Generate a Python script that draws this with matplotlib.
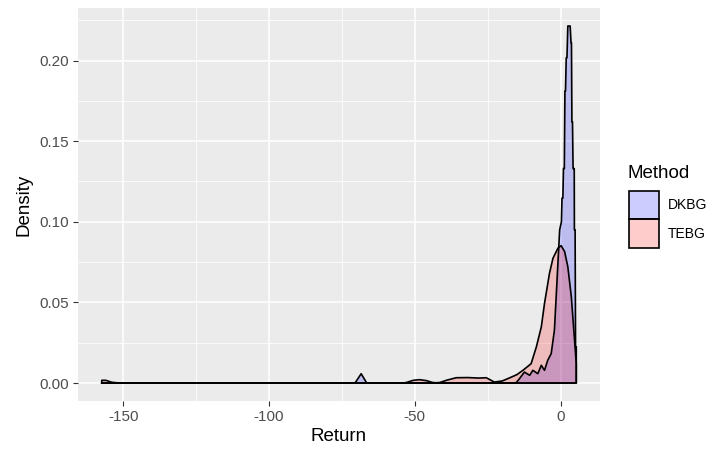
import matplotlib
matplotlib.use("Agg")
import matplotlib.pyplot as plt
from matplotlib.patches import Patch
from matplotlib.colors import to_rgba
from matplotlib.ticker import MultipleLocator

plt.rcParams["font.family"] = ["Liberation Sans", "DejaVu Sans"]

# density curves (Return, Density)
dkbg_x = [-157.4, -71.0, -70.4, -68.4, -66.6, -66.0, -16.0, -15.2, -14.1, -12.4,
          -10.6, -9.5, -7.8, -6.6, -5.5, -4.4, -3.2, -2.1, -1.5, -0.9,
          -0.3, 0.3, 0.5, 0.8, 1.0, 1.3, 1.5, 1.7, 1.95, 2.2,
          2.5, 3.3, 3.6, 3.75, 3.9, 4.1, 4.3, 4.7, 4.75, 5.0,
          5.15, 5.4]
dkbg_y = [0.0, 0.0, 0.0003, 0.0058, 0.0003, 0.0, 0.0, 0.0003, 0.0027, 0.0068,
          0.0048, 0.0079, 0.0058, 0.011, 0.0079, 0.0141, 0.0183, 0.0328, 0.0535, 0.0743,
          0.095, 0.100, 0.1147, 0.1147, 0.133, 0.133, 0.181, 0.181, 0.2017, 0.2017,
          0.2214, 0.2214, 0.211, 0.211, 0.162, 0.162, 0.133, 0.133, 0.095, 0.095,
          0.0224, 0.0224]

tebg_x = [-157.4, -156.0, -154.0, -152.5, -150.0, -54.0, -53.0, -50.5, -48.4, -46.0,
          -44.0, -43.0, -41.5, -39.0, -35.8, -32.0, -28.0, -25.5, -22.7, -20.0,
          -17.5, -15.0, -12.9, -10.1, -8.3, -6.6, -5.5, -3.8, -2.6, -0.9,
          0.2, 1.4, 2.5, 3.7, 4.8, 5.4]
tebg_y = [0.0017, 0.0017, 0.0005, 0.0002, 0.0, 0.0, 0.0003, 0.0017, 0.0021, 0.0015,
          0.0004, 0.0002, 0.0003, 0.0018, 0.0033, 0.0034, 0.0031, 0.0033, 0.0006, 0.0013,
          0.0032, 0.0052, 0.0079, 0.012, 0.0224, 0.0348, 0.0494, 0.068, 0.0774, 0.0836,
          0.0852, 0.0815, 0.0721, 0.0535, 0.0266, 0.012]

methods = ["DKBG", "TEBG"]
fills = ["blue", "red"]
xticks = [-150, -100, -50, 0]
yticks = [0.00, 0.05, 0.10, 0.15, 0.20]

fig = plt.figure(figsize=(7.16, 4.53), dpi=100)
ax = fig.add_axes([0.109, 0.115, 0.729, 0.867])
ax.set_facecolor("#EBEBEB")

for xs, ys, col in [(dkbg_x, dkbg_y, fills[0]), (tebg_x, tebg_y, fills[1])]:
    ax.fill_between(xs, 0, ys, facecolor=to_rgba(col, 0.2), edgecolor="none", zorder=3)
    # closed outline like old ggplot geom_density
    px = [xs[0]] + list(xs) + [xs[-1], xs[0]]
    py = [0] + list(ys) + [0, 0]
    ax.plot(px, py, color="black", lw=1.2, zorder=4)

# ggplot-style limits with 5% expansion
allx = dkbg_x + tebg_x
ally = dkbg_y + tebg_y
xr = max(allx) - min(allx)
yr = max(ally) - min(ally)
ax.set_xlim(min(allx) - 0.05 * xr, max(allx) + 0.05 * xr)
ax.set_ylim(min(ally) - 0.05 * yr, max(ally) + 0.05 * yr)

ax.set_xticks(xticks)
ax.set_xticklabels([str(t) for t in xticks])
ax.set_yticks(yticks)
ax.set_yticklabels(["%.2f" % t for t in yticks])
ax.xaxis.set_minor_locator(MultipleLocator(25))
ax.yaxis.set_minor_locator(MultipleLocator(0.025))
ax.grid(which="major", color="white", lw=1.1, zorder=0)
ax.grid(which="minor", color="white", lw=0.55, zorder=0)
ax.set_axisbelow(True)
for s in ax.spines.values():
    s.set_visible(False)
ax.tick_params(which="major", length=3.5, width=0.8, color="#333333",
               labelsize=11, labelcolor="#4D4D4D", pad=3)
ax.tick_params(which="minor", length=0)

ax.set_xlabel("Return", fontsize=13.5, labelpad=3)
ax.set_ylabel("Density", fontsize=13.5, labelpad=5)

# legend: title as separate text, then keys
fig.text(0.877, 0.618, "Method", fontsize=13.5, ha="left", va="center")
handles = [Patch(facecolor=to_rgba(c, 0.2), edgecolor="black", lw=1.2) for c in fills]
leg = fig.legend(handles, methods, loc="upper left",
                 bbox_to_anchor=(0.873, 0.588), frameon=False, fontsize=10,
                 handlelength=2.15, handleheight=2.8, handletextpad=0.6,
                 labelspacing=0.0, borderaxespad=0, borderpad=0.3)

fig.savefig("out.png", dpi=100)
